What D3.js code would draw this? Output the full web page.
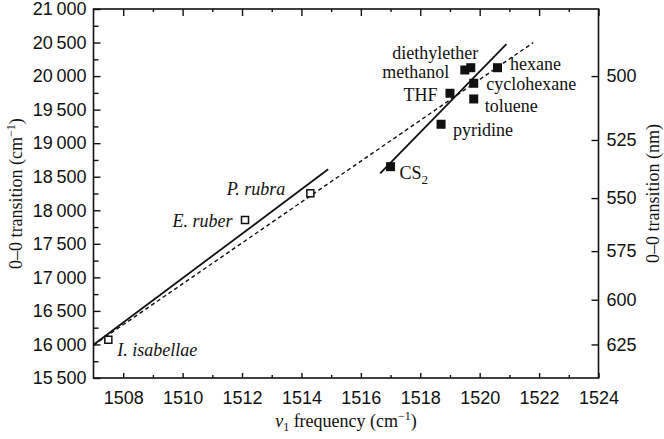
<!DOCTYPE html>
<html>
<head>
<meta charset="utf-8">
<script src="https://cdn.jsdelivr.net/npm/d3@7"></script>
<style>
  body { margin: 0; background: #fff; }
  svg { display: block; font-family: "Liberation Serif", "DejaVu Serif", serif; }
</style>
</head>
<body>
<svg id="chart" width="664" height="439"></svg>
<script>
// carotenoid species (open squares)
const speciesNames = ["I. isabellae", "E. ruber", "P. rubra"];
const speciesFreq = [1507.5, 1512.1, 1514.3];
const speciesTrans = [16070, 17855, 18253];

// solvents (filled squares)
const solventNames = ["CS2", "pyridine", "THF", "toluene", "cyclohexane", "methanol", "diethylether", "hexane"];
const solventFreq = [1517.0, 1518.7, 1519.0, 1519.8, 1519.8, 1519.5, 1519.7, 1520.6];
const solventTrans = [18650, 19282, 19744, 19659, 19893, 20091, 20125, 20125];

// fitted lines, end points
const speciesFit = [[1507, 15995], [1514.9, 18611]];
const solventFit = [[1516.65, 18551], [1520.9, 20478]];
const allFit = [[1507, 15990], [1521.8, 20498]];

// ticks
const xMajor = [1508, 1510, 1512, 1514, 1516, 1518, 1520, 1522, 1524];
const xMinor = [1509, 1511, 1513, 1515, 1517, 1519, 1521, 1523];
const yMajor = [15500, 16000, 16500, 17000, 17500, 18000, 18500, 19000, 19500, 20000, 20500, 21000];
const yMinor = [15750, 16250, 16750, 17250, 17750, 18250, 18750, 19250, 19750, 20250, 20750];
const nmTicks = [500, 525, 550, 575, 600, 625];

// label offsets in px from the point
const labelPos = {
  "I. isabellae": [9, 16, "start"],
  "E. ruber": [-12.5, 6.5, "end"],
  "P. rubra": [-25, 2, "end"],
  "CS2": [9, 12, "start"],
  "pyridine": [12, 12, "start"],
  "THF": [-12.5, 7.5, "end"],
  "toluene": [11, 13, "start"],
  "cyclohexane": [12.5, 7, "start"],
  "methanol": [-15.5, 8.5, "end"],
  "diethylether": [7.5, -9, "end"],
  "hexane": [12.5, 2.5, "start"]
};

const svg = d3.select("#chart");
const L = 93.5, R = 598.5, T = 9, B = 378;
const fs = 18;

const x = d3.scaleLinear().domain([1507, 1524]).range([L, R]);
const y = d3.scaleLinear().domain([15500, 21000]).range([B, T]);
const fmt = d => d3.format(",")(d).replace(",", "\u2009");

function axis(gen, tx, ty) {
  const g = svg.append("g").attr("transform", `translate(${tx},${ty})`).call(gen);
  g.select(".domain").remove();
  g.selectAll("line").attr("stroke", "#111").attr("stroke-width", 1.4);
  g.selectAll("text").attr("font-size", fs).attr("fill", "#111").attr("font-family", null);
  return g;
}

// left axis
axis(d3.axisLeft(y).tickValues(yMajor).tickFormat(fmt).tickSize(-7).tickPadding(7), L, 0);
axis(d3.axisLeft(y).tickValues(yMinor).tickFormat("").tickSize(-5), L, 0);
// bottom axis
axis(d3.axisBottom(x).tickValues(xMajor).tickFormat(d3.format("d")).tickSize(-5).tickPadding(13), 0, B);
axis(d3.axisBottom(x).tickValues(xMinor).tickFormat("").tickSize(-3), 0, B);
// top axis
axis(d3.axisTop(x).tickValues(xMajor).tickFormat("").tickSize(-7), 0, T);
axis(d3.axisTop(x).tickValues(xMinor).tickFormat("").tickSize(-3), 0, T);
// right axis, wavelength
axis(d3.axisRight(y).tickValues(nmTicks.map(n => 1e7 / n))
  .tickFormat((d, i) => nmTicks[i]).tickSize(-7).tickPadding(8), R, 0);

// frame
svg.append("rect")
  .attr("x", L).attr("y", T).attr("width", R - L).attr("height", B - T)
  .attr("fill", "none").attr("stroke", "#111").attr("stroke-width", 1.6);

// fit lines
const line = d3.line().x(d => x(d[0])).y(d => y(d[1]));
svg.append("path").datum(allFit).attr("d", line)
  .attr("fill", "none").attr("stroke", "#111").attr("stroke-width", 1.4)
  .attr("stroke-dasharray", "4,3");
svg.append("path").datum(speciesFit).attr("d", line)
  .attr("fill", "none").attr("stroke", "#111").attr("stroke-width", 1.8);
svg.append("path").datum(solventFit).attr("d", line)
  .attr("fill", "none").attr("stroke", "#111").attr("stroke-width", 1.8);

// points
const species = speciesNames.map((n, i) => ({ name: n, f: speciesFreq[i], t: speciesTrans[i] }));
const solvents = solventNames.map((n, i) => ({ name: n, f: solventFreq[i], t: solventTrans[i] }));

svg.selectAll(".sp").data(species).enter().append("rect")
  .attr("x", d => x(d.f) - 3.5).attr("y", d => y(d.t) - 3.5)
  .attr("width", 7).attr("height", 7)
  .attr("fill", "#fff").attr("stroke", "#111").attr("stroke-width", 1.5);

svg.selectAll(".sv").data(solvents).enter().append("rect")
  .attr("x", d => x(d.f) - 4.5).attr("y", d => y(d.t) - 4.5)
  .attr("width", 9).attr("height", 9)
  .attr("fill", "#111");

// labels
function addLabel(d, italic) {
  const p = labelPos[d.name];
  const t = svg.append("text")
    .attr("x", x(d.f) + p[0]).attr("y", y(d.t) + p[1])
    .attr("text-anchor", p[2]).attr("font-size", fs).attr("fill", "#111")
    .attr("font-style", italic ? "italic" : null);
  if (d.name === "CS2") {
    t.append("tspan").text("CS");
    t.append("tspan").attr("dy", 5).attr("font-size", 13).text("2");
  } else {
    t.text(d.name);
  }
}
species.forEach(d => addLabel(d, true));
solvents.forEach(d => addLabel(d, false));

// axis titles
const xt = svg.append("text").attr("x", (L + R) / 2).attr("y", 427)
  .attr("text-anchor", "middle").attr("font-size", fs).attr("fill", "#111");
xt.append("tspan").attr("font-style", "italic").text("v");
xt.append("tspan").attr("dy", 4).attr("font-size", 12).text("1");
xt.append("tspan").attr("dy", -4).text(" frequency (cm");
xt.append("tspan").attr("dy", -7).attr("font-size", 12).text("\u22121");
xt.append("tspan").attr("dy", 7).text(")");

const yl = svg.append("text")
  .attr("transform", `translate(22,${(T + B) / 2}) rotate(-90)`)
  .attr("text-anchor", "middle").attr("font-size", fs).attr("fill", "#111");
yl.append("tspan").text("0\u20130 transition (cm");
yl.append("tspan").attr("dy", -7).attr("font-size", 12).text("\u22121");
yl.append("tspan").attr("dy", 7).text(")");

svg.append("text")
  .attr("transform", `translate(659,${(T + B) / 2}) rotate(-90)`)
  .attr("text-anchor", "middle").attr("font-size", fs).attr("fill", "#111")
  .text("0\u20130 transition (nm)");
</script>
</body>
</html>
